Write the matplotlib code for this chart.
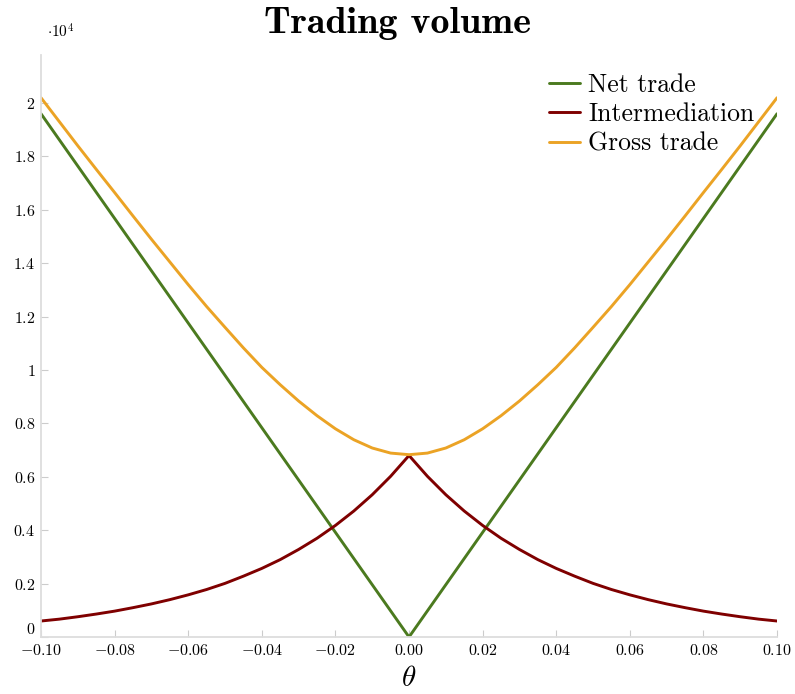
import matplotlib
matplotlib.use("Agg")
import matplotlib.pyplot as plt
import numpy as np

# theta grid, positive half (the chart is symmetric around 0)
theta_half = [0.000, 0.005, 0.010, 0.015, 0.020, 0.025, 0.030, 0.035, 0.040, 0.045, 0.050,
              0.055, 0.060, 0.065, 0.070, 0.075, 0.080, 0.085, 0.090, 0.095, 0.100]
# values in units of 1e4
net_half = [0.000, 0.098, 0.196, 0.294, 0.392, 0.490, 0.588, 0.686, 0.784, 0.882, 0.980,
            1.078, 1.176, 1.274, 1.372, 1.470, 1.568, 1.666, 1.764, 1.862, 1.960]
inter_half = [0.680, 0.602, 0.533, 0.472, 0.418, 0.370, 0.328, 0.290, 0.257, 0.228, 0.201,
              0.178, 0.158, 0.140, 0.124, 0.110, 0.097, 0.086, 0.076, 0.067, 0.060]
gross_half = [0.683, 0.689, 0.708, 0.739, 0.780, 0.829, 0.884, 0.945, 1.010, 1.083, 1.160,
              1.238, 1.320, 1.405, 1.490, 1.577, 1.665, 1.752, 1.840, 1.930, 2.020]

x_ticks = [-0.10, -0.08, -0.06, -0.04, -0.02, 0.00, 0.02, 0.04, 0.06, 0.08, 0.10]
y_ticks = [0, 0.2, 0.4, 0.6, 0.8, 1, 1.2, 1.4, 1.6, 1.8, 2]

SERIES = [("Net trade", net_half, "#4B7A1F"),
          ("Intermediation", inter_half, "#7F0000"),
          ("Gross trade", gross_half, "#EBA325")]


def mirror(half):
    return list(reversed(half[1:])) + list(half)


def main():
    plt.rcParams["mathtext.fontset"] = "cm"
    plt.rcParams["font.family"] = ["cmr10", "DejaVu Serif"]
    plt.rcParams["axes.unicode_minus"] = False

    theta = np.array([-t for t in reversed(theta_half[1:])] + theta_half)
    fig = plt.figure(figsize=(7.95, 6.94), dpi=100)
    ax = fig.add_axes([0.0516, 0.0821, 0.9258, 0.8386])
    for label, half, color in SERIES:
        ax.plot(theta, np.array(mirror(half)) * 1e4, color=color, lw=2.1, label=label,
                solid_joinstyle="round", solid_capstyle="round")

    ax.set_xlim(-0.1, 0.1)
    ax.set_ylim(0, 2.18e4)
    ax.set_xticks(x_ticks)
    ax.set_xticklabels([f"${t:.2f}$" for t in x_ticks], fontsize=11.5)
    ax.set_yticks([v * 1e4 for v in y_ticks])
    ax.set_yticklabels([f"${v:g}$" for v in y_ticks], fontsize=11.5)
    # sit the "0" label on the axis so it clears the first x label
    ax.get_yticklabels()[0].set_verticalalignment("bottom")
    for s in ("top", "right"):
        ax.spines[s].set_visible(False)
    for s in ("left", "bottom"):
        ax.spines[s].set_color("#dddddd")
        ax.spines[s].set_linewidth(1.3)
    ax.tick_params(direction="in", length=5, width=0.8, color="#cccccc", pad=4)
    ax.set_xlabel(r"$\theta$", fontsize=21, labelpad=6)
    ax.text(0.008, 1.03, r"$\cdot10^4$", transform=ax.transAxes, fontsize=11, ha="left")
    fig.suptitle("Trading volume", fontsize=27.5, fontfamily="cmb10", y=0.99)
    ax.legend(loc="upper right", bbox_to_anchor=(0.99, 0.995), frameon=False,
              fontsize=18.5, handlelength=1.2, handletextpad=0.3, labelspacing=0.22,
              borderaxespad=0.2)
    fig.savefig("out.png", dpi=100)
    plt.close(fig)


if __name__ == "__main__":
    main()
